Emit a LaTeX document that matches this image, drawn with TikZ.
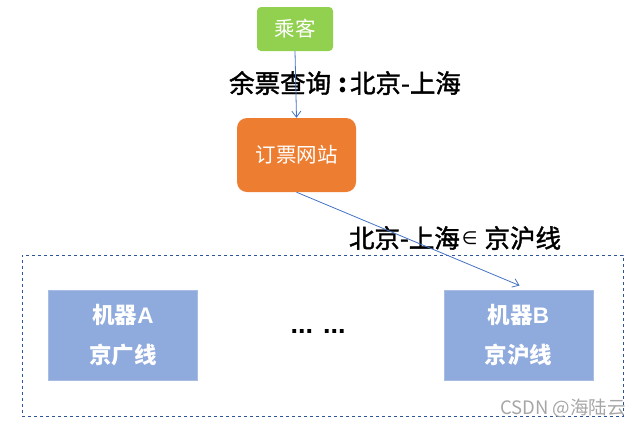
\documentclass[tikz,border=0pt]{standalone}
\usepackage{fontspec}
\usepackage{xcolor}
\usepackage{tikz}
\usetikzlibrary{arrows.meta}
\newfontfamily\cjk{Noto Sans CJK SC}
\newfontfamily\cjkmid[FakeBold=1.6]{Noto Sans CJK SC}
\newfontfamily\symb{DejaVu Sans}
\setsansfont{Liberation Sans}
\definecolor{passgreen}{HTML}{92D050}
\definecolor{siteorange}{HTML}{ED7D31}
\definecolor{machblue}{HTML}{8FAADC}
\definecolor{machedge}{HTML}{A9BDE2}
\definecolor{linkblue}{HTML}{4472C4}
\definecolor{framedark}{HTML}{2F5597}

\begin{document}
\begin{tikzpicture}[x=1pt,y=-1pt]
  \tikzstyle{box} = [text=white,inner sep=0pt,font=\cjk\fontsize{20.5}{22}\selectfont]
  \tikzstyle{machine} = [box,fill=machblue,draw=machedge,line width=1pt,minimum width=149pt,minimum height=90pt,align=center,font=\cjk\bfseries\fontsize{22.5}{40}\selectfont]
  \tikzstyle{link} = [linkblue,line width=0.8pt,-{Straight Barb[length=6pt,width=9pt]}]
  \tikzstyle{note} = [inner sep=0pt,font=\cjkmid\fontsize{25.5}{27}\selectfont]
  %
  \useasboundingbox (0,0) rectangle (644,426);
  % Frame round the machines.
  \node[draw=framedark,dashed,line width=0.8pt,minimum width=601pt,minimum height=161pt] (cluster) at (322.5,335.5) {};
  % Boxes.
  \node[box,fill=passgreen,rounded corners=4pt,minimum width=76pt,minimum height=44pt] (passenger) at (295,29) {乘客};
  \node[box,fill=siteorange,rounded corners=10pt,minimum width=119pt,minimum height=74pt] (site) at (296.5,155) {订票网站};
  \node[machine] (machineA) at (123,335) {机器{\sffamily\bfseries A}\\京广线};
  \node[machine] (machineB) at (518.5,335) {机器{\sffamily\bfseries B}\\京沪线};
  \node[font=\sffamily\bfseries\fontsize{27}{29}\selectfont] (dots) at (318,331) {... ...};
  % Labels.
  \node[note] (query) at (345,83) {余票查询\hspace{7pt}{\cjk\bfseries :}\hspace{3pt}北京-上海};
  \node[note] (route) at (455,238) {北京-上海\hspace{2pt}\raisebox{3pt}{\symb\fontsize{18}{19}\selectfont ∈}\hspace{7pt}京沪线};
  \node[text=black!35,inner sep=0pt,font=\cjk\fontsize{18.5}{20}\selectfont] (mark) at (563,408) {CSDN @海陆云};
  % Draw links.
  \draw[link] (passenger.south) -- (site.north);
  \draw[link] (site.south) -- ([xshift=1pt,yshift=4pt]machineB.north);
\end{tikzpicture}
\end{document}
